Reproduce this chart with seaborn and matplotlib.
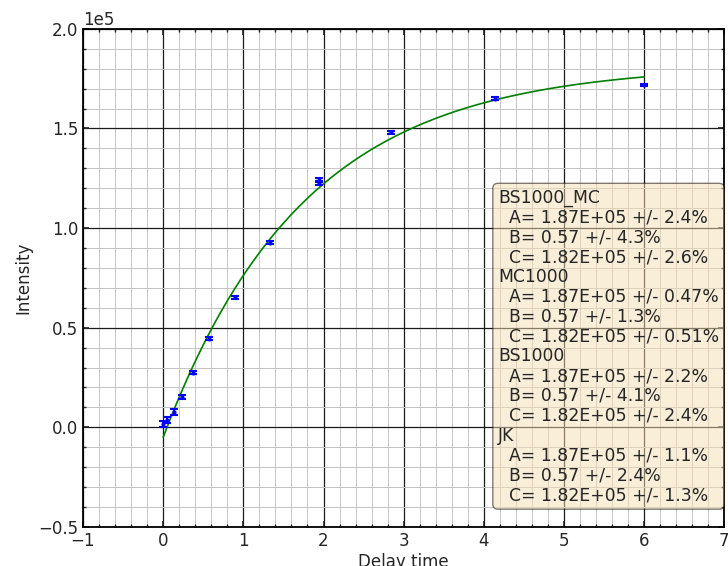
import numpy as np
import pandas as pd
import matplotlib
matplotlib.use("Agg")
import matplotlib.pyplot as plt
from matplotlib.ticker import MultipleLocator
import seaborn as sns

# measured points (delay time, intensity, error)
delay = [0.0, 0.05, 0.13, 0.23, 0.37, 0.57, 0.89, 1.33, 1.94, 1.94, 2.84, 4.14, 6.0]
intensity = [1500, 3500, 7700, 15200, 27500, 44500, 65300, 92700,
             124300, 122600, 148100, 165000, 171800]
intensity_err = [1500, 1500, 1500, 1200, 900, 900, 800, 800,
                 1000, 1000, 800, 700, 700]

# fit parameters shown in the box: y = C - A * exp(-B * t)
FIT_A = 1.87e5
FIT_B = 0.57
FIT_C = 1.82e5

fit_results = {
    "BS1000_MC": ["2.4%", "4.3%", "2.6%"],
    "MC1000": ["0.47%", "1.3%", "0.51%"],
    "BS1000": ["2.2%", "4.1%", "2.4%"],
    "JK": ["1.1%", "2.4%", "1.3%"],
}

sns.set_theme(style="white")
plt.rcParams["font.family"] = ["DejaVu Sans"]
plt.rcParams["font.size"] = 12

fig = plt.figure(figsize=(7.28, 5.66), dpi=100)
ax = fig.add_axes([0.114, 0.069, 0.881, 0.88])

# fit curve
t_fit = np.linspace(0, max(delay), 300)
fit_df = pd.DataFrame({"t": t_fit, "y": FIT_C - FIT_A * np.exp(-FIT_B * t_fit)})
sns.lineplot(data=fit_df, x="t", y="y", color="green", linewidth=1.2, ax=ax, zorder=3)

ax.errorbar(delay, intensity, yerr=intensity_err, fmt=".", color="blue",
            markersize=4, capsize=3, elinewidth=1.5, capthick=1.5, zorder=4)

ax.set_xlim(-1, 7)
ax.set_ylim(-0.5e5, 2.0e5)
ax.xaxis.set_major_locator(MultipleLocator(1))
ax.xaxis.set_minor_locator(MultipleLocator(0.2))
ax.yaxis.set_major_locator(MultipleLocator(0.5e5))
ax.yaxis.set_minor_locator(MultipleLocator(0.1e5))
ax.ticklabel_format(axis="y", style="sci", scilimits=(0, 0))

ax.grid(which="major", color="#1a1a1a", linewidth=0.9)
ax.grid(which="minor", color="#c4c4c4", linewidth=0.7)
ax.set_axisbelow(True)

ax.tick_params(which="both", direction="in", top=True, right=True,
               bottom=True, left=True, labelsize=12)
ax.tick_params(which="major", length=4)
ax.tick_params(which="minor", length=2)
for sp in ax.spines.values():
    sp.set_color("black")
    sp.set_linewidth(1.3)

ax.set_xlabel("Delay time", fontsize=12, labelpad=2)
ax.set_ylabel("Intensity", fontsize=12)
ax.yaxis.get_offset_text().set_fontsize(12)

lines = []
for name, errs in fit_results.items():
    lines.append(name)
    lines.append(f"  A= {FIT_A:.2E} +/- {errs[0]}")
    lines.append(f"  B= {FIT_B:.2f} +/- {errs[1]}")
    lines.append(f"  C= {FIT_C:.2E} +/- {errs[2]}")
ax.text(0.647, 0.679, "\n".join(lines), transform=ax.transAxes,
        ha="left", va="top", fontsize=12.4, linespacing=1.13, zorder=5,
        bbox=dict(boxstyle="round,pad=0.3", facecolor="wheat",
                  edgecolor="black", alpha=0.5))

fig.savefig("out.png", dpi=100)
